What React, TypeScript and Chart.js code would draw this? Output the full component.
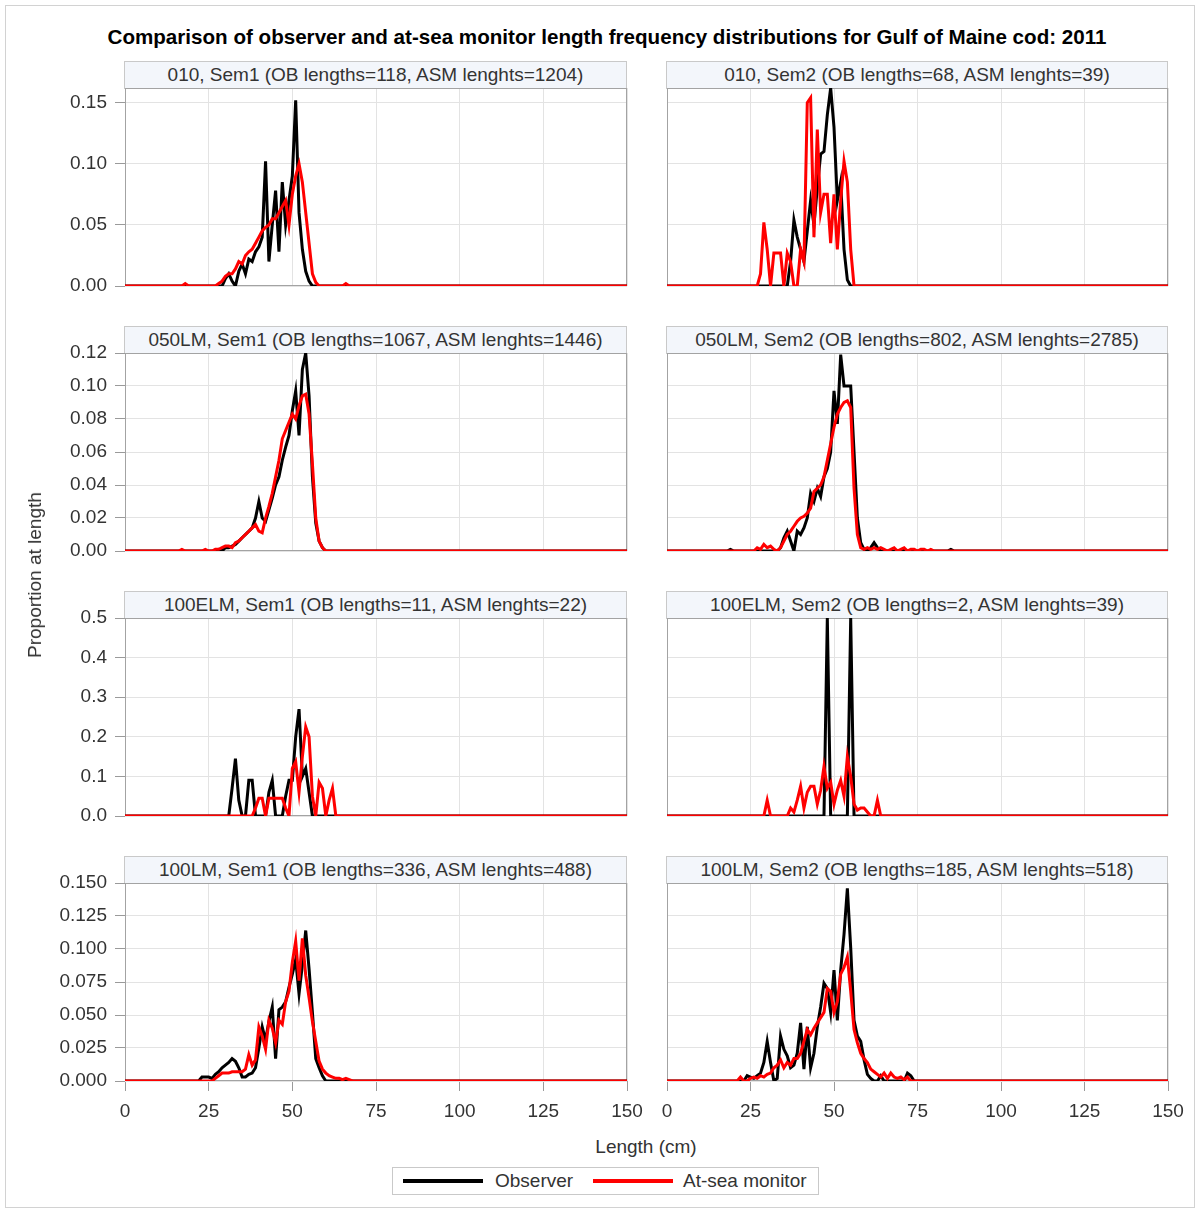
import React, { useEffect, useRef } from "react";
import { Chart, registerables } from "chart.js";

Chart.register(...registerables);

// ---------------- data (proportion at length, 1 cm bins; missing lengths = 0) ----------------
const LENGTH_MIN = 0;
const LENGTH_MAX = 150;
const X_TICKS = [0, 25, 50, 75, 100, 125, 150];

// 010, Sem1
const OB_010_SEM1_START = 30;
const OB_010_SEM1 = [0.006, 0.01, 0.004, 0.0, 0.012, 0.018, 0.01, 0.022, 0.02, 0.028, 0.032, 0.04, 0.102, 0.02, 0.05, 0.078, 0.028, 0.085, 0.05, 0.07, 0.09, 0.152, 0.06, 0.03, 0.012, 0.004, 0];
const ASM_010_SEM1_START = 17;
const ASM_010_SEM1 = [
  0, 0.002, 0, 0, 0, 0, 0, 0, 0, 0, 0,
  0.002, 0.004, 0.008, 0.01, 0.01, 0.014, 0.02, 0.018, 0.025, 0.028, 0.03, 0.035, 0.04, 0.045, 0.048,
  0.05, 0.055, 0.055, 0.06, 0.065, 0.07, 0.05, 0.075, 0.09, 0.1, 0.085, 0.06, 0.035, 0.01, 0.003,
  0, 0, 0, 0, 0, 0, 0, 0, 0.002, 0,
];

// 010, Sem2
const OB_010_SEM2_START = 36;
const OB_010_SEM2 = [0, 0.02, 0.054, 0.04, 0.03, 0.02, 0.045, 0.07, 0.05, 0.08, 0.108, 0.11, 0.14, 0.162, 0.13, 0.07, 0.085, 0.03, 0.005, 0];
const ASM_010_SEM2_START = 28;
const ASM_010_SEM2 = [0.01, 0.052, 0.03, 0.0, 0.027, 0.027, 0.027, 0.0, 0.027, 0.02, 0.0, 0.0, 0.03, 0.02, 0.15, 0.154, 0.04, 0.128, 0.06, 0.075, 0.075, 0.035, 0.075, 0.03, 0.07, 0.102, 0.085, 0.03, 0];

// 050LM, Sem1
const OB_050LM_SEM1_START = 28;
const OB_050LM_SEM1 = [0.001, 0, 0.002, 0.002, 0.003, 0.004, 0.006, 0.008, 0.01, 0.012, 0.014, 0.02, 0.03, 0.02, 0.018, 0.025, 0.032, 0.04, 0.045, 0.055, 0.063, 0.07, 0.085, 0.097, 0.07, 0.11, 0.12, 0.094, 0.045, 0.017, 0.006, 0.002, 0];
const ASM_050LM_SEM1_START = 16;
const ASM_050LM_SEM1 = [0, 0.001, 0, 0, 0, 0, 0, 0, 0.001, 0, 0, 0.001, 0.001, 0.002, 0.003, 0.003, 0.002, 0.005, 0.006, 0.008, 0.01, 0.012, 0.014, 0.016, 0.012, 0.011, 0.02, 0.027, 0.035, 0.045, 0.055, 0.068, 0.073, 0.078, 0.083, 0.08, 0.088, 0.094, 0.095, 0.083, 0.053, 0.02, 0.006, 0.002, 0];

// 050LM, Sem2
const OB_050LM_SEM2_START = 18;
const OB_050LM_SEM2 = [
  0, 0.001,
  0, 0, 0, 0, 0, 0, 0, 0, 0, 0, 0, 0, 0, 0,
  0.002, 0.008, 0.012, 0.006, 0, 0.012, 0.01, 0.014, 0.02, 0.035,
  0.03, 0.038, 0.033, 0.045, 0.05, 0.06, 0.097, 0.077, 0.119, 0.1,
  0.1, 0.1, 0.06, 0.02, 0.005, 0.001, 0, 0.002, 0.005, 0.002,
  0, 0, 0, 0, 0, 0, 0, 0.001,
  0, 0, 0, 0, 0, 0, 0, 0, 0, 0, 0, 0, 0,
  0.001, 0,
];
const ASM_050LM_SEM2_START = 27;
const ASM_050LM_SEM2 = [0.002, 0.001, 0.004, 0.002, 0.003, 0.001, 0, 0.002, 0.006, 0.01, 0.012, 0.015, 0.018, 0.02, 0.021, 0.023, 0.026, 0.036, 0.038, 0.04, 0.045, 0.055, 0.065, 0.075, 0.083, 0.087, 0.09, 0.091, 0.087, 0.038, 0.01, 0.002, 0.001, 0.002, 0.001, 0.002, 0.001, 0.002, 0.001, 0, 0.001, 0.002, 0, 0.001, 0.002, 0, 0.001, 0.001, 0, 0.001, 0.001, 0, 0.001, 0];

// 100ELM, Sem1
const OB_100ELM_SEM1_START = 31;
const OB_100ELM_SEM1 = [0, 0.07, 0.145, 0.04, 0, 0, 0.09, 0.09, 0, 0, 0, 0, 0.06, 0.09, 0, 0, 0, 0.05, 0.09, 0.09, 0.2, 0.27, 0.1, 0.12, 0.06, 0];
const ASM_100ELM_SEM1_START = 38;
const ASM_100ELM_SEM1 = [0, 0.02, 0.045, 0.045, 0, 0.045, 0.045, 0.045, 0.045, 0.045, 0.02, 0, 0.12, 0.137, 0.06, 0.15, 0.225, 0.2, 0.05, 0, 0.085, 0.07, 0, 0.04, 0.07, 0];

// 100ELM, Sem2
const OB_100ELM_SEM2_START = 47;
const OB_100ELM_SEM2 = [0, 0.5, 0, 0, 0, 0, 0, 0, 0.5, 0];
const ASM_100ELM_SEM2_START = 29;
const ASM_100ELM_SEM2 = [0, 0.04, 0, 0, 0, 0, 0, 0, 0.02, 0.01, 0.04, 0.075, 0.02, 0.06, 0.075, 0.075, 0.03, 0.065, 0.125, 0.07, 0.085, 0.03, 0.065, 0.09, 0.05, 0.15, 0.1, 0.03, 0.015, 0.02, 0.02, 0.01, 0, 0, 0.04, 0];

// 100LM, Sem1
const OB_100LM_SEM1_START = 22;
const OB_100LM_SEM1 = [0, 0.003, 0.003, 0.003, 0.002, 0.005, 0.007, 0.01, 0.012, 0.014, 0.017, 0.015, 0.01, 0.003, 0.003, 0.005, 0.006, 0.01, 0.025, 0.041, 0.031, 0.045, 0.056, 0.017, 0.054, 0.056, 0.06, 0.071, 0.081, 0.092, 0.066, 0.088, 0.114, 0.085, 0.052, 0.017, 0.01, 0.004, 0];
const ASM_100LM_SEM1_START = 26;
const ASM_100LM_SEM1 = [0, 0.002, 0.004, 0.006, 0.006, 0.006, 0.007, 0.007, 0.007, 0.007, 0.009, 0.02, 0.012, 0.016, 0.041, 0.034, 0.024, 0.046, 0.04, 0.029, 0.046, 0.043, 0.06, 0.068, 0.09, 0.106, 0.076, 0.108, 0.08, 0.063, 0.045, 0.03, 0.015, 0.009, 0.006, 0.004, 0.003, 0.002, 0.002, 0.001, 0.002, 0.001, 0];

// 100LM, Sem2
const OB_100LM_SEM2_START = 23;
const OB_100LM_SEM2 = [0, 0.004, 0.003, 0.002, 0.004, 0.006, 0.014, 0.03, 0.014, 0, 0.002, 0.034, 0.024, 0.019, 0.01, 0.012, 0.021, 0.044, 0.009, 0.041, 0.01, 0.021, 0.041, 0.056, 0.074, 0.07, 0.052, 0.084, 0.046, 0.084, 0.111, 0.146, 0.101, 0.046, 0.034, 0.03, 0.016, 0.005, 0.002, 0, 0, 0.004, 0, 0, 0, 0, 0, 0, 0, 0.006, 0.004, 0];
const ASM_100LM_SEM2_START = 21;
const ASM_100LM_SEM2 = [0, 0.003, 0, 0, 0.002, 0.003, 0.002, 0.004, 0.003, 0.005, 0.006, 0.01, 0.012, 0.016, 0.01, 0.014, 0.012, 0.017, 0.017, 0.021, 0.03, 0.039, 0.035, 0.04, 0.044, 0.048, 0.052, 0.07, 0.068, 0.052, 0.06, 0.081, 0.086, 0.094, 0.068, 0.039, 0.029, 0.021, 0.017, 0.014, 0.009, 0.007, 0.005, 0.003, 0.006, 0.002, 0.006, 0.003, 0.002, 0.003, 0.001, 0.003, 0];

// row-wise y axes
const ROW_Y_TICKS = [
  [0, 0.05, 0.1, 0.15],
  [0, 0.02, 0.04, 0.06, 0.08, 0.1, 0.12],
  [0, 0.1, 0.2, 0.3, 0.4, 0.5],
  [0, 0.025, 0.05, 0.075, 0.1, 0.125, 0.15],
];
const ROW_Y_MAX = [0.162, 0.12, 0.5, 0.15];
const ROW_Y_DECIMALS = [2, 2, 1, 3];

const PANEL_TITLES = [
  "010, Sem1 (OB lengths=118, ASM lenghts=1204)",
  "010, Sem2 (OB lengths=68, ASM lenghts=39)",
  "050LM, Sem1 (OB lengths=1067, ASM lenghts=1446)",
  "050LM, Sem2 (OB lengths=802, ASM lenghts=2785)",
  "100ELM, Sem1 (OB lengths=11, ASM lenghts=22)",
  "100ELM, Sem2 (OB lengths=2, ASM lenghts=39)",
  "100LM, Sem1 (OB lengths=336, ASM lenghts=488)",
  "100LM, Sem2 (OB lengths=185, ASM lenghts=518)",
];

const OB_SERIES: [number, number[]][] = [
  [OB_010_SEM1_START, OB_010_SEM1],
  [OB_010_SEM2_START, OB_010_SEM2],
  [OB_050LM_SEM1_START, OB_050LM_SEM1],
  [OB_050LM_SEM2_START, OB_050LM_SEM2],
  [OB_100ELM_SEM1_START, OB_100ELM_SEM1],
  [OB_100ELM_SEM2_START, OB_100ELM_SEM2],
  [OB_100LM_SEM1_START, OB_100LM_SEM1],
  [OB_100LM_SEM2_START, OB_100LM_SEM2],
];
const ASM_SERIES: [number, number[]][] = [
  [ASM_010_SEM1_START, ASM_010_SEM1],
  [ASM_010_SEM2_START, ASM_010_SEM2],
  [ASM_050LM_SEM1_START, ASM_050LM_SEM1],
  [ASM_050LM_SEM2_START, ASM_050LM_SEM2],
  [ASM_100ELM_SEM1_START, ASM_100ELM_SEM1],
  [ASM_100ELM_SEM2_START, ASM_100ELM_SEM2],
  [ASM_100LM_SEM1_START, ASM_100LM_SEM1],
  [ASM_100LM_SEM2_START, ASM_100LM_SEM2],
];

// ---------------- layout ----------------
const FONT = '"Liberation Sans", Arial, Helvetica, sans-serif';
const TEXT = "#333333";
const ROW_TOPS = [88, 353, 618, 883];
const PLOT_H = 198;
const COL_LEFT = [125, 667];
const COL_RIGHT = [627, 1168];
const CANVAS_LEFT = [10, 657];
const MARGIN = 12;
const X_AXIS_H = 45;

function toPoints(start: number, values: number[]) {
  const pts: { x: number; y: number }[] = [];
  for (let len = LENGTH_MIN; len <= LENGTH_MAX; len++) {
    const i = len - start;
    pts.push({ x: len, y: i >= 0 && i < values.length ? values[i] : 0 });
  }
  return pts;
}

const framePlugin = {
  id: "frame",
  beforeDatasetsDraw(chart: any) {
    const { ctx, chartArea: a } = chart;
    ctx.save();
    ctx.strokeStyle = "#a3a3a3";
    ctx.lineWidth = 1;
    ctx.strokeRect(a.left + 0.5, a.top + 0.5, a.right - a.left - 1, a.bottom - a.top - 1);
    ctx.restore();
  },
};

function Panel({ index }: { index: number }) {
  const ref = useRef<HTMLCanvasElement | null>(null);
  const row = Math.floor(index / 2);
  const col = index % 2;
  const isBottom = row === 3;
  const canvasLeft = CANVAS_LEFT[col];
  const canvasTop = ROW_TOPS[row] - MARGIN;
  const width = COL_RIGHT[col] + 20 - canvasLeft;
  const height = MARGIN + PLOT_H + (isBottom ? X_AXIS_H : MARGIN);

  useEffect(() => {
    if (!ref.current) return;
    const zeroPad = (s: any) => {
      s.paddingLeft = 0;
      s.paddingRight = 0;
      s.paddingTop = 0;
      s.paddingBottom = 0;
    };
    const chart = new Chart(ref.current, {
      type: "line",
      data: {
        datasets: [
          {
            label: "Observer",
            data: toPoints(OB_SERIES[index][0], OB_SERIES[index][1]),
            borderColor: "#000000",
            backgroundColor: "#000000",
            borderWidth: 3,
            pointRadius: 0,
            tension: 0,
            order: 1,
          },
          {
            label: "At-sea monitor",
            data: toPoints(ASM_SERIES[index][0], ASM_SERIES[index][1]),
            borderColor: "#ff0000",
            backgroundColor: "#ff0000",
            borderWidth: 3,
            pointRadius: 0,
            tension: 0,
            order: 0,
          },
        ],
      },
      options: {
        responsive: false,
        animation: false,
        devicePixelRatio: 1,
        events: [],
        layout: {
          padding: { top: MARGIN, right: 20, bottom: isBottom ? 0 : MARGIN, left: 0 },
        },
        plugins: { legend: { display: false }, tooltip: { enabled: false }, title: { display: false } },
        scales: {
          x: {
            type: "linear",
            min: LENGTH_MIN,
            max: LENGTH_MAX,
            afterBuildTicks: (s: any) => {
              s.ticks = X_TICKS.map((v) => ({ value: v }));
            },
            afterFit: (s: any) => {
              s.height = isBottom ? X_AXIS_H : 0;
              zeroPad(s);
            },
            border: { display: false },
            grid: {
              color: "#e3e3e3",
              lineWidth: 1,
              drawTicks: isBottom,
              tickLength: 10,
              tickColor: "#9a9a9a",
            },
            ticks: {
              display: isBottom,
              autoSkip: false,
              maxRotation: 0,
              padding: 9,
              color: TEXT,
              font: { family: FONT, size: 19 },
              callback: (v: any) => String(v),
            },
          },
          y: {
            type: "linear",
            min: 0,
            max: ROW_Y_MAX[row],
            afterBuildTicks: (s: any) => {
              s.ticks = ROW_Y_TICKS[row].map((v) => ({ value: v }));
            },
            afterFit: (s: any) => {
              s.width = COL_LEFT[col] - canvasLeft;
              zeroPad(s);
            },
            border: { display: false },
            grid: {
              color: "#e3e3e3",
              lineWidth: 1,
              drawTicks: col === 0,
              tickLength: 10,
              tickColor: "#9a9a9a",
            },
            ticks: {
              display: col === 0,
              padding: 8,
              color: TEXT,
              font: { family: FONT, size: 19 },
              callback: (v: any) => Number(v).toFixed(ROW_Y_DECIMALS[row]),
            },
          },
        },
      },
      plugins: [framePlugin],
    } as any);
    return () => chart.destroy();
  }, [index]);

  return (
    <>
      <div
        style={{
          position: "absolute",
          left: COL_LEFT[col] - 1,
          top: ROW_TOPS[row] - 27,
          width: COL_RIGHT[col] - COL_LEFT[col] + 1,
          height: 28,
          boxSizing: "border-box",
          border: "1px solid #c9c9c9",
          background: "#f3f6fb",
          color: TEXT,
          fontFamily: FONT,
          fontSize: 19,
          lineHeight: "26px",
          textAlign: "center",
          whiteSpace: "nowrap",
        }}
      >
        {PANEL_TITLES[index]}
      </div>
      <canvas
        ref={ref}
        width={width}
        height={height}
        style={{ position: "absolute", left: canvasLeft, top: canvasTop, width, height }}
      />
    </>
  );
}

function CenteredText({ x, y, children, style }: any) {
  return (
    <div
      style={{
        position: "absolute",
        left: x,
        top: y,
        transform: "translate(-50%, -50%)",
        whiteSpace: "nowrap",
        fontFamily: FONT,
        color: TEXT,
        fontSize: 19,
        ...style,
      }}
    >
      {children}
    </div>
  );
}

export default function App() {
  return (
    <div
      style={{
        position: "absolute",
        left: 0,
        top: 0,
        width: 1199,
        height: 1211,
        background: "#ffffff",
        overflow: "hidden",
      }}
    >
      <div
        style={{
          position: "absolute",
          left: 5,
          top: 5,
          width: 1190,
          height: 1203,
          boxSizing: "border-box",
          border: "1px solid #d2d2d2",
        }}
      />
      <CenteredText x={607} y={37} style={{ fontWeight: "bold", color: "#000", fontSize: 20.6 }}>
        Comparison of observer and at-sea monitor length frequency distributions for Gulf of Maine cod: 2011
      </CenteredText>
      {PANEL_TITLES.map((_, i) => (
        <Panel key={i} index={i} />
      ))}
      <CenteredText x={35} y={575} style={{ transform: "translate(-50%, -50%) rotate(-90deg)" }}>
        Proportion at length
      </CenteredText>
      <CenteredText x={646} y={1147}>Length (cm)</CenteredText>
      <div
        style={{
          position: "absolute",
          left: 392,
          top: 1167,
          width: 427,
          height: 28,
          boxSizing: "border-box",
          border: "1px solid #c9c9c9",
          background: "#fff",
        }}
      >
        <div style={{ position: "absolute", left: 10, top: 11, width: 80, height: 4, background: "#000" }} />
        <div
          style={{
            position: "absolute",
            left: 102,
            top: 0,
            lineHeight: "26px",
            fontFamily: FONT,
            fontSize: 19,
            color: TEXT,
            whiteSpace: "nowrap",
          }}
        >
          Observer
        </div>
        <div style={{ position: "absolute", left: 200, top: 11, width: 80, height: 4, background: "#ff0000" }} />
        <div
          style={{
            position: "absolute",
            left: 290,
            top: 0,
            lineHeight: "26px",
            fontFamily: FONT,
            fontSize: 19,
            color: TEXT,
            whiteSpace: "nowrap",
          }}
        >
          At-sea monitor
        </div>
      </div>
    </div>
  );
}
